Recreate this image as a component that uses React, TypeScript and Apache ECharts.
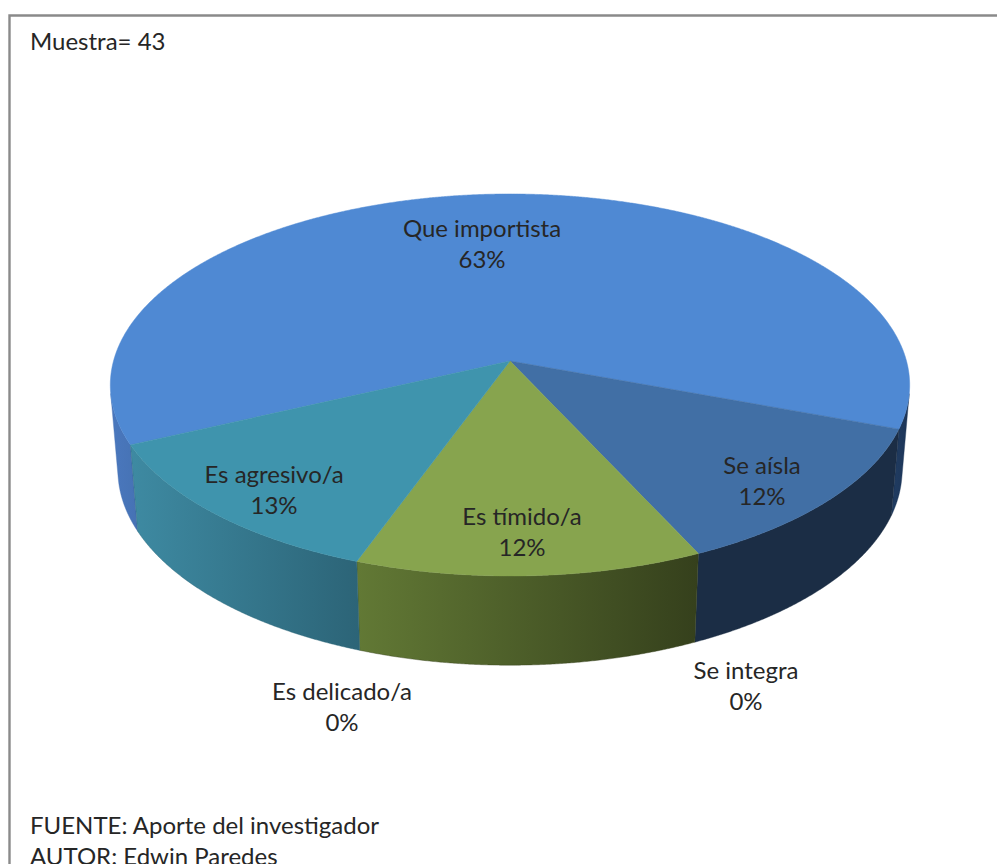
import React, { useEffect, useRef } from "react";
import * as echarts from "echarts";

const categories = ["Que importista", "Se aísla", "Se integra", "Es tímido/a", "Es delicado/a", "Es agresivo/a"];
const shares = [62.58, 12.45, 0, 12.45, 0, 12.52];

const sampleText = "Muestra= 43";
const footerLines = ["FUENTE: Aporte del investigador", "AUTOR: Edwin Paredes"];

// Presentation
const START_ANGLE = 155;
const FONT = "Lato, 'Open Sans', sans-serif";
const FONT_SIZE = 24;
const TEXT = "#262626";
const topColors = ["#4F89D3", "#416FA5", "#000", "#87A44E", "#000", "#3F94AD"];
const sideGradients: string[][][] = [
  [["#4A78BE", "#4672B4"], ["#203C62", "#1D3557"]],
  [["#1B2D45", "#1B2D45"]],
  [],
  [["#627935", "#35401C"]],
  [],
  [["#3E8AA2", "#2C6477"]],
];
const labelCenters = [
  [482, 242.5],
  [762, 479.5],
  [746, 685],
  [522, 530.5],
  [342, 705.5],
  [274, 489],
];

// Projection of the tilted disc (perspective, seen from the front)
const CX = 510;
const K = 0.1257;
const TOP = { R: 396.5, y0: 361, S: 188 };
const BOTTOM = { R: 389, y0: 445.6, S: 192 };

type Level = { R: number; y0: number; S: number };
const rad = (d: number) => (d * Math.PI) / 180;
const project = (deg: number, l: Level): number[] => {
  const u = Math.cos(rad(deg));
  const v = Math.sin(rad(deg));
  const d = 1 - K * v;
  return [CX + (l.R * u) / d, l.y0 + (l.S * v) / d];
};
const isFacing = (deg: number) => {
  const a = project(deg - 0.05, TOP);
  const b = project(deg + 0.05, TOP);
  const t = project(deg, TOP);
  const p = project(deg, BOTTOM);
  const dx = p[0] - t[0];
  const dy = p[1] - t[1];
  return dx * (b[1] - a[1]) - dy * (b[0] - a[0]) > 0;
};

const total = shares.reduce((s, v) => s + v, 0);
const sliceRange = (index: number): [number, number] => {
  let from = START_ANGLE;
  for (let i = 0; i < index; i++) from += (shares[i] / total) * 360;
  return [from, from + (shares[index] / total) * 360];
};
const anglesBetween = (a0: number, a1: number) => {
  const out: number[] = [];
  const n = Math.max(1, Math.ceil((a1 - a0) / 0.25));
  for (let i = 0; i <= n; i++) out.push(a0 + ((a1 - a0) * i) / n);
  return out;
};

const renderSide = (params: any, api: any) => {
  const value = api.value(0);
  if (!value) return { type: "group", children: [] };
  const [a0, a1] = sliceRange(params.dataIndex);
  const runs: number[][] = [];
  let cur: number[] | null = null;
  anglesBetween(a0, a1).forEach((a) => {
    if (isFacing(a)) {
      if (!cur) {
        cur = [];
        runs.push(cur);
      }
      cur.push(a);
    } else {
      cur = null;
    }
  });
  const grads = sideGradients[params.dataIndex];
  return {
    type: "group",
    children: runs.map((run, r) => {
      const g = grads[Math.min(r, grads.length - 1)];
      const fill = new echarts.graphic.LinearGradient(0, 0, 1, 0, [
        { offset: 0, color: g[0] },
        { offset: 1, color: g[1] },
      ]);
      const points = [
        ...run.map((a) => project(a, TOP)),
        ...run.slice().reverse().map((a) => project(a, BOTTOM)),
      ];
      return { type: "polygon", shape: { points }, style: { fill, stroke: g[1], lineWidth: 0.4 } };
    }),
  };
};

const renderTop = (params: any, api: any) => {
  const i = params.dataIndex;
  const value = api.value(0);
  const children: any[] = [];
  if (value) {
    const [a0, a1] = sliceRange(i);
    const points = [[CX, TOP.y0], ...anglesBetween(a0, a1).map((a) => project(a, TOP))];
    children.push({
      type: "polygon",
      shape: { points },
      style: { fill: topColors[i], stroke: topColors[i], lineWidth: 0.5 },
    });
  }
  return { type: "group", children };
};

const renderLabel = (params: any, api: any) => {
  const i = params.dataIndex;
  return {
    type: "text",
    x: labelCenters[i][0],
    y: labelCenters[i][1],
    style: {
      text: `${categories[i]}\n${Math.round((api.value(0) / total) * 100)}%`,
      fontFamily: FONT,
      fontSize: FONT_SIZE,
      lineHeight: 31,
      fill: TEXT,
      align: "center",
      verticalAlign: "middle",
    },
  };
};

export default function App() {
  const ref = useRef<HTMLDivElement>(null);
  useEffect(() => {
    const chart = echarts.init(ref.current!, null, { renderer: "svg" });
    const data = categories.map((name, i) => ({ name, value: shares[i] }));
    const base = { type: "custom", coordinateSystem: "none", silent: true, data, animation: false };
    chart.setOption({
      animation: false,
      backgroundColor: "#ffffff",
      series: [
        { ...base, name: "lados", renderItem: renderSide, z: 1 },
        { ...base, name: "sectores", renderItem: renderTop, z: 2 },
        { ...base, name: "etiquetas", renderItem: renderLabel, z: 3 },
      ],
      graphic: [
        {
          type: "rect",
          z: 0,
          silent: true,
          shape: { x: 9.5, y: 15.5, width: 1200, height: 1200 },
          style: { fill: "transparent", stroke: "#8A8A8A", lineWidth: 2.4 },
        },
        {
          type: "text",
          x: 30,
          y: 40,
          style: { text: sampleText, fontFamily: FONT, fontSize: FONT_SIZE, fill: TEXT, verticalAlign: "middle" },
        },
        {
          type: "text",
          x: 30,
          y: 824,
          style: { text: footerLines[0], fontFamily: FONT, fontSize: FONT_SIZE, fill: TEXT, verticalAlign: "middle" },
        },
        {
          type: "text",
          x: 30,
          y: 855,
          style: { text: footerLines[1], fontFamily: FONT, fontSize: FONT_SIZE, fill: TEXT, verticalAlign: "middle" },
        },
      ],
    });
    return () => chart.dispose();
  }, []);
  return (
    <div
      ref={ref}
      style={{ position: "absolute", left: 0, top: 0, width: 997, height: 864, overflow: "hidden" }}
    />
  );
}
